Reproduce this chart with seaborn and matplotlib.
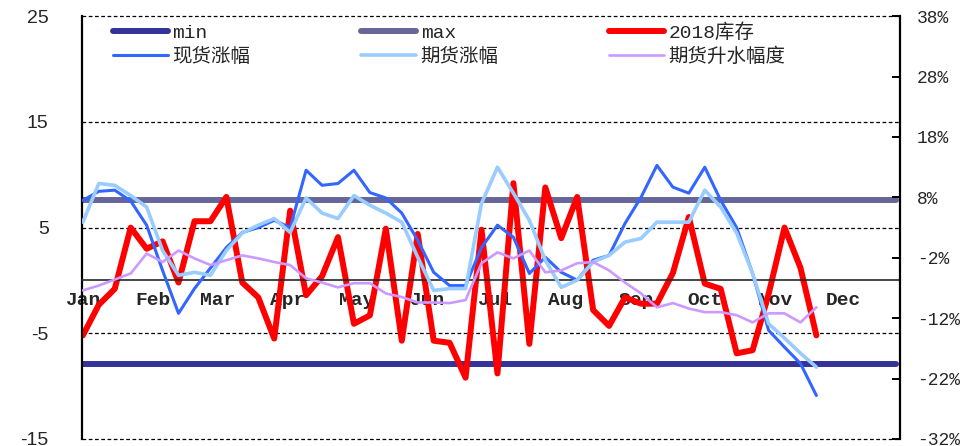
import numpy as np
import pandas as pd
import seaborn as sns
import matplotlib
matplotlib.use('Agg')
import matplotlib.pyplot as plt

# weekly data, 2018 (left axis: inventory, right axis: % changes)
inv_min = -7.9
inv_max = 7.6
inv_2018 = [-5.2, -2.3, -0.8, 5.0, 3.0, 3.7, -0.2, 5.6, 5.6, 7.9, -0.2, -1.6, -5.5, 6.6, -1.4, 0.4,
            4.1, -4.1, -3.3, 4.9, -5.7, 4.4, -5.7, -5.9, -9.2, 4.8, -8.8, 9.2, -6.0, 8.8, 4.0, 7.9,
            -2.8, -4.3, -1.6, -2.2, -2.2, 0.7, 6.0, -0.3, -0.8, -6.9, -6.6, -1.3, 5.0, 1.2, -5.2]
spot_chg = [7.5, 9.0, 9.2, 7.4, 3.4, -4.1, -11.2, -7.1, -3.7, -0.3, 2.2, 3.0, 4.2, 3.0, 12.5, 10.0,
            10.3, 12.5, 8.8, 7.9, 5.4, 0.9, -4.4, -6.6, -6.6, -0.3, 3.4, 1.4, -4.6, -1.9, -4.4, -5.7,
            -2.4, -1.6, 3.7, 8.0, 13.3, 9.7, 8.7, 13.0, 7.5, 3.0, -4.6, -14.0, -16.8, -19.5, -24.8]
fut_chg = [3.9, 10.3, 10.0, 8.3, 6.4, -0.8, -4.9, -4.4, -4.9, -0.8, 2.1, 3.4, 4.5, 2.2, 7.9, 5.4,
           4.5, 8.3, 6.7, 5.4, 3.9, -1.9, -7.4, -7.1, -7.1, 7.0, 13.0, 8.7, 4.2, -2.4, -6.9, -5.7,
           -2.7, -1.6, 0.6, 1.2, 3.9, 3.9, 3.9, 9.2, 6.4, 2.1, -4.6, -12.9, -15.3, -17.8, -20.1]
fut_premium = [-7.4, -6.6, -5.6, -4.6, -1.3, -2.7, -0.8, -2.1, -3.2, -2.4, -1.6, -2.1, -2.7, -3.2,
               -5.4, -6.1, -6.9, -6.2, -6.2, -7.9, -8.5, -9.4, -9.4, -9.5, -9.0, -2.9, -1.1, -2.1,
               -0.8, -4.4, -4.1, -2.9, -2.7, -4.1, -6.1, -7.9, -10.2, -9.5, -10.4, -11.0, -11.0,
               -11.5, -12.7, -11.2, -11.2, -12.7, -10.2]
months = ['Jan', 'Feb', 'Mar', 'Apr', 'May', 'Jun', 'Jul', 'Aug', 'Sep', 'Oct', 'Nov', 'Dec']
left_ticks = [-15, -5, 5, 15, 25]
right_ticks = [-32, -22, -12, -2, 8, 18, 28, 38]

n_weeks = 52
weeks = np.arange(len(inv_2018))
all_weeks = np.arange(n_weeks)
month_pos = (pd.date_range('2018-01-01', periods=12, freq='MS').dayofyear - 1) / 7

sns.set_style('white')
plt.rcParams['font.family'] = ['Liberation Sans', 'Noto Sans CJK SC']
mono = ['Liberation Mono', 'Noto Sans CJK SC']

fig = plt.figure(figsize=(9.71, 4.46), dpi=100)
ax = fig.add_axes([0.0845, 0.0157, 0.8425, 0.948])
ax2 = ax.twinx()

sns.lineplot(x=all_weeks, y=[inv_min] * n_weeks, ax=ax, color='#333399', linewidth=4.3, label='min')
sns.lineplot(x=all_weeks, y=[inv_max] * n_weeks, ax=ax, color='#666699', linewidth=4.3, label='max')
sns.lineplot(x=weeks, y=inv_2018, ax=ax, color='#FF0000', linewidth=4.3, label='2018库存')

sns.lineplot(x=weeks, y=spot_chg, ax=ax2, color='#3366FF', linewidth=2.2, label='现货涨幅')
sns.lineplot(x=weeks, y=fut_chg, ax=ax2, color='#99CCFF', linewidth=2.6, label='期货涨幅')
sns.lineplot(x=weeks, y=fut_premium, ax=ax2, color='#CC99FF', linewidth=1.9, label='期货升水幅度')

h1, l1 = ax.get_legend_handles_labels()
h2, l2 = ax2.get_legend_handles_labels()
for a in (ax, ax2):
    if a.get_legend() is not None:
        a.get_legend().remove()

ax.set_xlim(-0.05, 51.25)
ax.set_ylim(-15, 25)
ax2.set_ylim(-32, 38)

# dashed grid
for v in left_ticks:
    ax.axhline(v, color='black', linewidth=0.9, linestyle=(0, (3, 2)), zorder=0.5, clip_on=False)

# x axis runs along zero
ax.spines['bottom'].set_position(('data', 0))
ax.spines['bottom'].set_linewidth(1.2)
ax.spines['top'].set_visible(False)
ax.spines['right'].set_visible(False)
ax.spines['left'].set_linewidth(1.6)
ax.spines['left'].set_color('black')

ax.set_yticks(left_ticks)
ax.set_yticklabels([str(v) for v in left_ticks], fontsize=14)
ax.tick_params(axis='y', length=0, pad=24)

ax.set_xticks(month_pos)
ax.set_xticklabels(months, fontsize=14, family=mono, fontweight='bold')
ax.tick_params(axis='x', direction='in', length=5, width=1.2, pad=8, color='black')
ax.set_xlabel('')
ax.set_ylabel('')

ax2.set_yticks(right_ticks)
ax2.set_yticklabels([f'{v}%' for v in right_ticks], fontsize=13, family=mono)
ax2.tick_params(axis='y', direction='in', length=6, width=1.4, pad=12, color='black')
for s in ('top', 'bottom', 'left'):
    ax2.spines[s].set_visible(False)
ax2.spines['right'].set_linewidth(1.6)
ax2.spines['right'].set_color('black')
ax2.set_ylabel('')

order = [0, 3, 1, 4, 2, 5]
handles = [(h1 + h2)[i] for i in order]
labels = [(l1 + l2)[i] for i in order]
ax2.legend(handles, labels, ncol=3, loc='upper left', bbox_to_anchor=(0.038, 0.984),
           frameon=False, prop={'family': mono, 'size': 14}, handlelength=2.8,
           handletextpad=0.25, columnspacing=5.7, labelspacing=0.3,
           borderpad=0, borderaxespad=0)

fig.savefig('out.png', dpi=100)
